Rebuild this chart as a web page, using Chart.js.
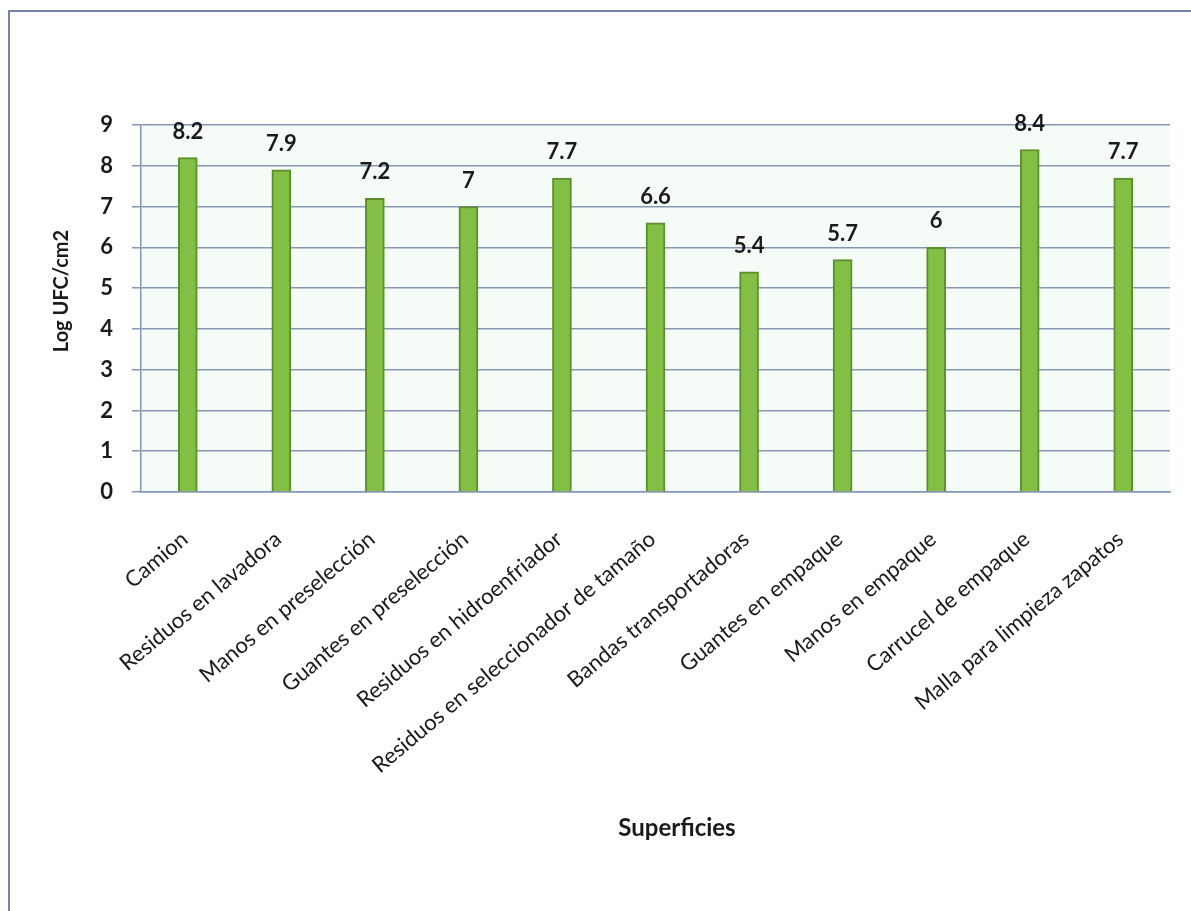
<!DOCTYPE html>
<html>
<head>
<meta charset="utf-8">
<script src="https://cdn.jsdelivr.net/npm/chart.js@4/dist/chart.umd.min.js"></script>
<style>
  html, body { margin: 0; padding: 0; background: #ffffff; }
  #wrap { position: relative; width: 1191px; height: 911px; overflow: hidden; }
  #frame { position: absolute; left: 8px; top: 10px; width: 1300px; height: 1000px;
           border-left: 2px solid #7383a3; border-top: 2px solid #7383a3; }
  canvas { position: absolute; left: 0; top: 0; }
</style>
</head>
<body>
<div id="wrap">
  <div id="frame"></div>
  <canvas id="chart" width="1191" height="911"></canvas>
</div>
<script>
// Surfaces sampled and their counts (Log UFC/cm2)
const categories = [
  'Camion',
  'Residuos en lavadora',
  'Manos en preselección',
  'Guantes en preselección',
  'Residuos en hidroenfriador',
  'Residuos en seleccionador de tamaño',
  'Bandas transportadoras',
  'Guantes en empaque',
  'Manos en empaque',
  'Carrucel de empaque',
  'Malla para limpieza zapatos'
];
const values = [8.2, 7.9, 7.2, 7, 7.7, 6.6, 5.4, 5.7, 6, 8.4, 7.7];
const yMin = 0;
const yMax = 9;
const yStep = 1;
const xTitle = 'Superficies';
const yTitle = 'Log UFC/cm2';

const FONT = 'Lato, "Open Sans", sans-serif';
const TEXT = '#1a1a1a';
const GRID = '#8597b6';

// Plot-area tint, value labels and axis titles
const decor = {
  id: 'decor',
  beforeDraw(chart) {
    const { ctx, chartArea: a } = chart;
    ctx.save();
    ctx.fillStyle = '#f5fbf6';
    ctx.fillRect(a.left, a.top, a.right - a.left, a.bottom - a.top);
    ctx.restore();
  },
  afterDatasetsDraw(chart) {
    const { ctx } = chart;
    const meta = chart.getDatasetMeta(0);
    ctx.save();
    ctx.font = 'bold 22px ' + FONT;
    ctx.fillStyle = TEXT;
    ctx.textAlign = 'center';
    ctx.textBaseline = 'middle';
    meta.data.forEach((bar, i) => {
      ctx.fillText(String(values[i]), bar.x, bar.y - 26);
    });
    ctx.restore();
  },
  afterDraw(chart) {
    const { ctx } = chart;
    ctx.save();
    ctx.font = 'bold 24px ' + FONT;
    ctx.fillStyle = TEXT;
    ctx.textAlign = 'center';
    ctx.textBaseline = 'middle';
    ctx.fillText(xTitle, 677, 828);
    ctx.font = 'bold 20px ' + FONT;
    ctx.translate(62, 291);
    ctx.rotate(-Math.PI / 2);
    ctx.fillText(yTitle, 0, 0);
    ctx.restore();
  }
};

new Chart(document.getElementById('chart'), {
  type: 'bar',
  data: {
    labels: categories,
    datasets: [{
      data: values,
      backgroundColor: '#84bf45',
      borderColor: '#5c8f2c',
      borderWidth: 2,
      barThickness: 19,
      categoryPercentage: 1
    }]
  },
  options: {
    responsive: false,
    animation: false,
    devicePixelRatio: 1,
    layout: { padding: { top: 125, right: 21, left: 0, bottom: 0 } },
    plugins: {
      legend: { display: false },
      tooltip: { enabled: false }
    },
    scales: {
      x: {
        grid: { display: false, drawTicks: false },
        border: { display: true, color: GRID, width: 1.5 },
        ticks: {
          color: TEXT,
          font: { family: FONT, size: 22 },
          minRotation: 40,
          maxRotation: 40,
          autoSkip: false,
          padding: 34,
          labelOffset: -3
        },
        afterFit(scale) { scale.height = 911 - 492; }
      },
      y: {
        min: yMin,
        max: yMax,
        grid: { color: GRID, lineWidth: 1.5, tickLength: 9 },
        border: { display: true, color: GRID, width: 1.5 },
        ticks: {
          stepSize: yStep,
          color: TEXT,
          font: { family: FONT, size: 22, weight: 'bold' },
          padding: 19
        },
        afterFit(scale) { scale.width = 141; }
      }
    }
  },
  plugins: [decor]
});
</script>
</body>
</html>
